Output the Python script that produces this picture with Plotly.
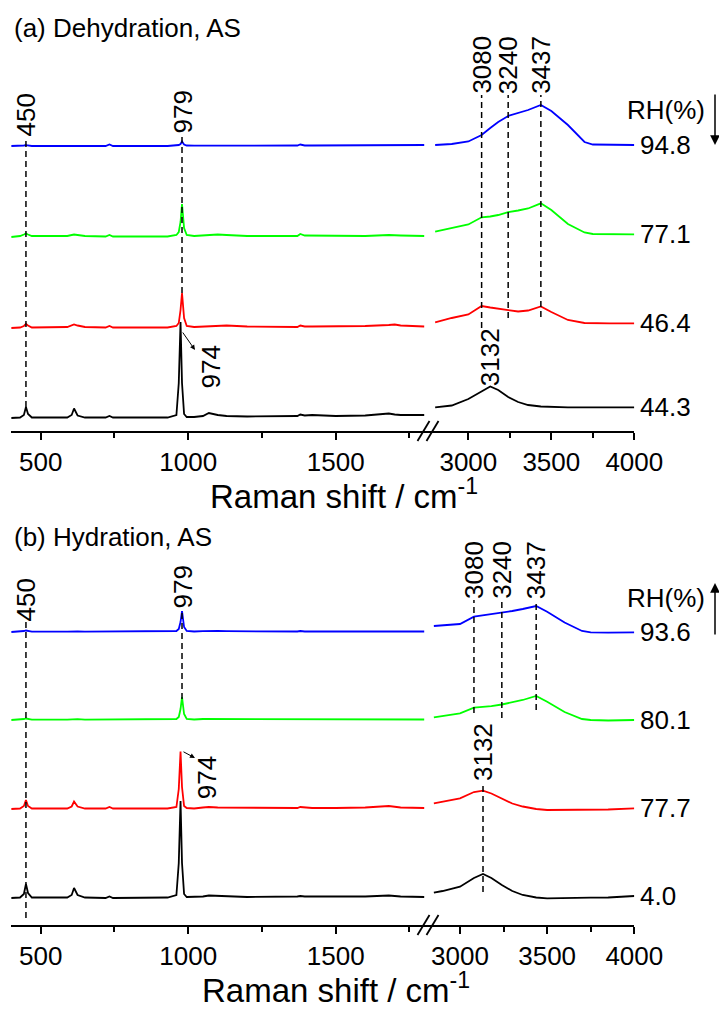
import plotly.graph_objects as go

# ---------------- data ----------------
# shared wavenumber grids (cm-1)
x_left = [400, 430, 443, 450, 457, 470, 590, 605, 613, 625, 650, 720, 733, 745,
          930, 960, 968, 974, 979, 986, 995, 1020, 1050, 1070, 1100, 1130, 1200,
          1370, 1380, 1395, 1420, 1500, 1600, 1680, 1700, 1720, 1800]
x_right_a = [2800, 2900, 3000, 3080, 3132, 3180, 3240, 3300, 3360, 3437, 3500,
             3600, 3700, 3750, 3850, 4000]
x_right_b = [2850, 2900, 3000, 3080, 3132, 3180, 3240, 3300, 3360, 3437, 3500,
             3600, 3700, 3750, 3850, 4000]

series_colors = ["#000000", "#FF0000", "#00FF00", "#0000FF"]

# panel (a) Dehydration: RH labels (bottom -> top) and stacking offsets
rh_a = ["44.3", "46.4", "77.1", "94.8"]
offset_a = [13, 103, 194, 285]

a_black_left = [0, 0.5, 3, 11, 4, 0.5, 0.5, 3, 9.5, 2.5, 0.5, 0.5, 2, 0.5,
                0.5, 3, 35, 96, 35, 4, 1, 1, 2, 5, 3, 2, 1.5,
                2, 3.5, 2.5, 3, 2, 2.5, 4.5, 3.5, 3, 3]
a_red_left = [0, 0.5, 2, 4, 2.5, 0.5, 1, 2.5, 3.5, 2.5, 1, 0.5, 2, 0.5,
              0.5, 2, 5, 18, 35, 10, 2, 1, 1.5, 2, 2.5, 2.5, 1.5,
              1, 2.5, 1.5, 1.5, 1.5, 2, 3, 3.5, 2.5, 1.5]
a_green_left = [0, 1, 2.5, 3.5, 2.5, 1, 1, 2, 2.5, 2, 1, 0.5, 2, 0.5,
                0.5, 2, 5, 15, 33, 9, 2, 1, 1.5, 2, 2.5, 2, 1,
                1, 3, 1.5, 1.5, 1, 1, 2, 2, 1.5, 1]
a_blue_left = [0, 0, 0.5, 0.8, 0.5, 0, 0, 0, 0.5, 0, 0, 0, 1.5, 0,
               0, 0.5, 1, 2, 4.5, 1.5, 0.5, 0.3, 0.3, 0.5, 0.5, 0.5, 0.3,
               0.5, 1.5, 0.5, 0.5, 0.5, 0.8, 1, 1, 1, 1]

a_black_right = [10.7, 12.5, 19, 27, 31.5, 28, 21, 16, 13, 11.5, 11, 10.7, 10.7, 10.7, 10.7, 10.7]
a_red_right = [5.7, 10, 13.5, 22, 20.5, 19.5, 18.5, 16.5, 17.5, 21.5, 16, 8, 5, 4.7, 4.7, 4.7]
a_green_right = [5.3, 9, 12.5, 19.7, 20.5, 22, 24.8, 26.5, 28.5, 33.7, 27, 13, 4.5, 3, 2.7, 2.7]
a_blue_right = [1, 2, 4.5, 11, 18, 24, 30, 33, 36, 41, 35, 21, 4, 1.5, 1, 1]

# panel (b) Hydration
rh_b = ["4.0", "77.7", "80.1", "93.6"]
offset_b = [27, 116, 205, 293]

b_black_left = [0, 0.5, 4, 14, 5, 0.5, 0.5, 3, 10, 3, 0.5, 0, 1.5, 0,
                0.5, 3, 35, 97, 35, 4, 1, 1, 1.5, 2.5, 2, 1.5, 1,
                1.5, 2, 1.5, 1.5, 1, 1.5, 2.5, 2, 1.5, 1]
b_red_left = [0, 0.5, 3, 9, 3, 0.5, 0.5, 2.5, 7.5, 2.5, 0.5, 0.5, 2, 0.5,
              0.5, 2, 20, 57.5, 22, 3, 1, 0.5, 1.5, 2, 1.5, 1.5, 1,
              1, 2, 1.5, 1, 1, 1.5, 3, 2.5, 1.5, 1]
b_green_left = [0, 0.3, 1, 1.5, 1, 0.3, 0.3, 0.5, 1, 0.8, 0.3, 0.3, 1, 0.3,
                0.3, 1, 3, 11, 23, 6, 1, 0.5, 1, 1, 1, 0.8, 0.5,
                0.5, 1.2, 0.5, 0.5, 0.5, 0.5, 1, 1, 0.8, 0.5]
b_blue_left = [0, 0.3, 1, 1.5, 1, 0.3, 0.3, 0.5, 1, 0.7, 0.3, 0.3, 0.8, 0.3,
               0.3, 1, 3, 10, 21, 5, 1, 0.5, 0.8, 1, 1, 0.8, 0.5,
               0.5, 1, 0.5, 0.5, 0.5, 0.5, 0.8, 0.8, 0.5, 0.5]

b_black_right = [5.3, 7, 11.3, 20, 24, 20, 13, 7, 3, 0.5, -0.3, -0.3, 0, 0.3, 0.5, 2]
b_red_right = [5.7, 7.5, 10.7, 17, 18.3, 15.5, 10.5, 5.5, 2.5, 0, -1, -1, -1, -1, -0.5, 0.7]
b_green_right = [2.7, 4, 6.7, 12.3, 13, 13.8, 15.5, 18, 20, 24, 18.3, 8, 1, 0, -0.5, 0]
b_blue_right = [6, 6.5, 8, 15.3, 16.5, 17.5, 19, 21, 23, 26, 20.3, 9.5, 1, -0.3, -0.7, -0.3]

# marked band positions (cm-1)
bands_left = [450, 979]
bands_right = [3080, 3240, 3437]
band_3132 = 3132
band_974 = 974

# ---------------- figure ----------------
W, H = 719, 1020
FONT = "Liberation Sans, Arial, sans-serif"


def px(xp):
    return xp / W


def py(yp):
    return 1 - yp / H


fig = go.Figure()

panels = [
    dict(xl="x", xr="x2", y="y", offs=offset_a, xr_vals=x_right_a, rh=rh_a,
         left=[a_black_left, a_red_left, a_green_left, a_blue_left],
         right=[a_black_right, a_red_right, a_green_right, a_blue_right]),
    dict(xl="x3", xr="x4", y="y2", offs=offset_b, xr_vals=x_right_b, rh=rh_b,
         left=[b_black_left, b_red_left, b_green_left, b_blue_left],
         right=[b_black_right, b_red_right, b_green_right, b_blue_right]),
]

annotations = []
shapes = []

for p in panels:
    for i in range(4):
        off = p["offs"][i]
        fig.add_trace(go.Scatter(
            x=x_left, y=[off + v for v in p["left"][i]], mode="lines",
            line=dict(color=series_colors[i], width=1.8),
            xaxis=p["xl"], yaxis=p["y"], hoverinfo="skip"))
        yr = [off + v for v in p["right"][i]]
        fig.add_trace(go.Scatter(
            x=p["xr_vals"], y=yr, mode="lines",
            line=dict(color=series_colors[i], width=1.8),
            xaxis=p["xr"], yaxis=p["y"], hoverinfo="skip"))
        annotations.append(dict(
            x=4000, y=yr[-1], xref=p["xr"], yref=p["y"], text=p["rh"][i],
            showarrow=False, xanchor="left", yanchor="middle", xshift=4,
            font=dict(size=26, family=FONT, color="black")))

DASH = dict(color="black", width=1.5, dash="6px,4px")


def vline(xref, yref, x, y0, y1):
    shapes.append(dict(type="line", xref=xref, yref=yref, x0=x, x1=x,
                       y0=y0, y1=y1, line=DASH))


def vlabel(xref, yref, x, y, text, yanchor="bottom", xshift=0):
    annotations.append(dict(
        x=x, y=y, xref=xref, yref=yref, text=text, showarrow=False,
        textangle=-90, xanchor="center", yanchor=yanchor, xshift=xshift,
        font=dict(size=26, family=FONT, color="black"), borderpad=0))


# ---- panel (a) markers ----
vline("x", "y", bands_left[0], 24, 294)
vline("x", "y", bands_left[1], 138, 296)
vlabel("x", "y", bands_left[0], 294, str(bands_left[0]))
vlabel("x", "y", bands_left[1], 296, str(bands_left[1]))
vline("x2", "y", bands_right[0], 103, 336)
vline("x2", "y", bands_right[1], 113, 336)
vline("x2", "y", bands_right[2], 114, 336)
for b in bands_right:
    vlabel("x2", "y", b, 336, str(b))
vlabel("x2", "y", band_3132, 44, str(band_3132))
vlabel("x", "y", 1074, 86, str(band_974), yanchor="top")
annotations.append(dict(x=1023, y=81, ax=978, ay=100, xref="x", yref="y",
                        axref="x", ayref="y", text="", showarrow=True,
                        arrowhead=2, arrowsize=1, arrowwidth=1, arrowcolor="black"))

# ---- panel (b) markers ----
vline("x3", "y2", bands_left[0], 7, 303)
vline("x3", "y2", bands_left[1], 226, 315)
vlabel("x3", "y2", bands_left[0], 303, str(bands_left[0]))
vlabel("x3", "y2", bands_left[1], 315, str(bands_left[1]))
vline("x4", "y2", bands_right[0], 212, 325)
vline("x4", "y2", bands_right[1], 207, 325)
vline("x4", "y2", bands_right[2], 215, 325)
for b in bands_right:
    vlabel("x4", "y2", b, 325, str(b))
vline("x4", "y2", band_3132, 33, 142)
vlabel("x4", "y2", band_3132, 143, str(band_3132))
vlabel("x3", "y2", 1063, 170, str(band_974), yanchor="top")
annotations.append(dict(x=1023, y=167, ax=979, ay=174, xref="x3", yref="y2",
                        axref="x3", ayref="y2", text="", showarrow=True,
                        arrowhead=2, arrowsize=1, arrowwidth=1, arrowcolor="black"))

# ---- RH headers and arrows ----
for yc, head, ay in [(110, 145, -52), (598, 583, 53)]:
    annotations.append(dict(x=px(625), y=py(yc), xref="paper", yref="paper",
                            text="RH(%)", showarrow=False, xanchor="left",
                            yanchor="middle",
                            font=dict(size=26, family=FONT, color="black")))
    annotations.append(dict(x=px(715), y=py(head), xref="paper", yref="paper",
                            ax=0, ay=ay, text="", showarrow=True, arrowhead=2,
                            arrowsize=1.3, arrowwidth=1.5, arrowcolor="black"))

# ---- panel titles & axis titles ----
annotations.append(dict(x=px(12), y=py(28), xref="paper", yref="paper",
                        text="(a) Dehydration, AS", showarrow=False,
                        xanchor="left", yanchor="middle",
                        font=dict(size=26, family=FONT, color="black")))
annotations.append(dict(x=px(12), y=py(537), xref="paper", yref="paper",
                        text="(b) Hydration, AS", showarrow=False,
                        xanchor="left", yanchor="middle",
                        font=dict(size=26, family=FONT, color="black")))
for xc, yc in [(344, 494), (336, 988)]:
    annotations.append(dict(x=px(xc), y=py(yc), xref="paper", yref="paper",
                            text="Raman shift / cm<sup>-1</sup>", showarrow=False,
                            xanchor="center", yanchor="middle",
                            font=dict(size=33, family=FONT, color="black")))

# ---- axis break marks ----
for axis_y in [431, 925]:
    for x0 in [417.5, 426.5]:
        shapes.append(dict(type="line", xref="paper", yref="paper",
                           x0=px(x0), x1=px(x0 + 12), y0=py(axis_y + 10),
                           y1=py(axis_y - 10),
                           line=dict(color="black", width=1.8)))

xl_dom = [px(11.2), px(431)]
xr_dom = [px(431), px(634.3)]
common_x = dict(showgrid=False, zeroline=False, showline=True, linecolor="black",
                linewidth=2, ticks="outside", ticklen=7, tickwidth=2,
                tickcolor="black", dtick=500, automargin=False,
                tickfont=dict(size=26, family=FONT, color="black"),
                minor=dict(dtick=250, ticks="outside", ticklen=5, tickwidth=2,
                           tickcolor="black"))
common_y = dict(showgrid=False, zeroline=False, showline=False,
                showticklabels=False, ticks="", automargin=False)

fig.update_layout(
    template="none",
    width=W, height=H, autosize=False, margin=dict(l=0, r=0, t=0, b=0, pad=0),
    paper_bgcolor="white", plot_bgcolor="white", showlegend=False,
    xaxis=dict(domain=xl_dom, range=[400, 1823], anchor="y", tick0=500, **common_x),
    xaxis2=dict(domain=xr_dom, range=[2775, 4000], anchor="y", tick0=3000, **common_x),
    xaxis3=dict(domain=xl_dom, range=[400, 1823], anchor="y2", tick0=500, **common_x),
    xaxis4=dict(domain=xr_dom, range=[2833.6, 4000], anchor="y2", tick0=3000, **common_x),
    yaxis=dict(domain=[py(431), py(20)], range=[0, 411], **common_y),
    yaxis2=dict(domain=[py(925), py(515)], range=[0, 410], **common_y),
    annotations=annotations, shapes=shapes,
)

fig.write_html("out.html",
               config={"displayModeBar": False, "responsive": False},
               post_script="document.body.style.margin='0';document.body.style.overflow='hidden';")
